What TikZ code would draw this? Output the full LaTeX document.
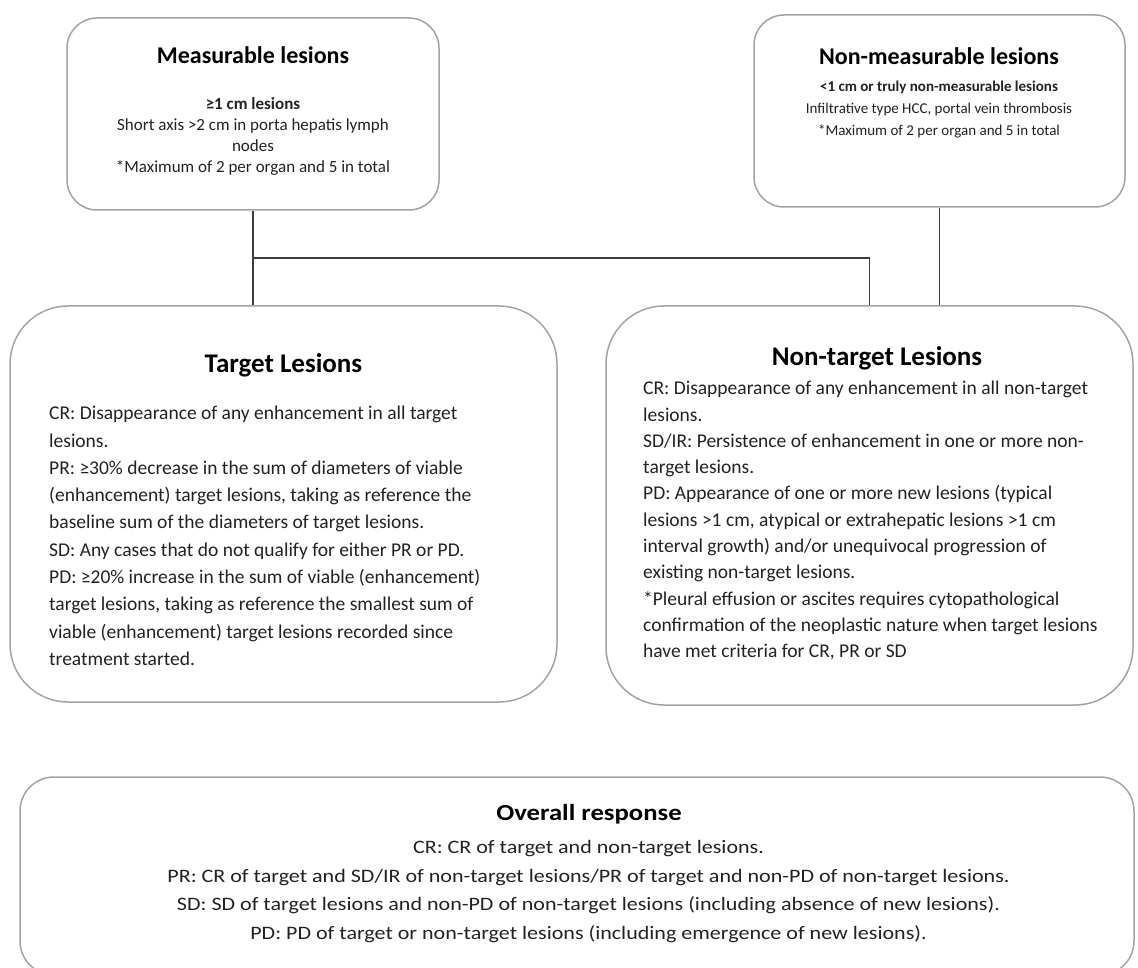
\documentclass[tikz,border=0pt]{standalone}
\usepackage{fontspec}
\setmainfont{Carlito}
\newfontfamily\widefont[FakeStretch=1.16]{Carlito}
\usetikzlibrary{calc}
\definecolor{boxgray}{HTML}{A3A3A3}
\definecolor{linegray}{HTML}{3C3C3C}
\definecolor{textgray}{HTML}{222222}
\tikzset{
  lesionbox/.style={draw=boxgray,line width=1.5pt,rounded corners=#1,inner sep=0pt},
  lesionbox/.default=30pt,
  boxtitle/.style={font=\bfseries\fontsize{#1}{#1}\selectfont,inner sep=0pt,text=black},
  boxtext/.style 2 args={font=\fontsize{#1}{#2}\selectfont,inner sep=0pt,text=textgray},
  conn/.style={draw=linegray,line width=1.2pt}
}
\begin{document}
\begin{tikzpicture}[x=1pt,y=-1pt]
\useasboundingbox (0,0) rectangle (1138,968);
% upper boxes
\node[lesionbox,minimum width=372pt,minimum height=192pt] (meas) at (253,114) {};
\node[lesionbox,minimum width=371pt,minimum height=192pt] (nonmeas) at (939.5,111) {};
\node[boxtitle=24,anchor=base] (meastitle) at (253,63.5) {Measurable lesions};
\node[boxtext={17}{21},align=center,anchor=north] (measbody) at (253,97)
  {\textbf{≥1 cm lesions}\\Short axis >2 cm in porta hepatis lymph\\nodes\\*Maximum of 2 per organ and 5 in total};
\node[boxtitle=24,anchor=base] (nonmeastitle) at (939,65) {Non-measurable lesions};
\node[boxtext={15}{22},align=center,anchor=north] (nonmeasbody) at (939,81)
  {\textbf{<1 cm or truly non-measurable lesions}\\Infiltrative type HCC, portal vein thrombosis\\*Maximum of 2 per organ and 5 in total};
% lesion boxes
\node[lesionbox=58pt,minimum width=547pt,minimum height=396pt] (target) at (283.5,504) {};
\node[lesionbox=58pt,minimum width=527pt,minimum height=399pt] (nontarget) at (869.5,505.5) {};
\node[boxtitle=27,anchor=base] (targettitle) at (283.5,372) {Target Lesions};
\node[boxtext={19.5}{27.3},align=left,anchor=north west] (targetbody) at (49,406)
  {CR: Disappearance of any enhancement in all target\\lesions.\\
   PR: ≥30\% decrease in the sum of diameters of viable\\
   (enhancement) target lesions, taking as reference the\\
   baseline sum of the diameters of target lesions.\\
   SD: Any cases that do not qualify for either PR or PD.\\
   PD: ≥20\% increase in the sum of viable (enhancement)\\
   target lesions, taking as reference the smallest sum of\\
   viable (enhancement) target lesions recorded since\\
   treatment started.};
\node[boxtitle=27,anchor=base] (nontargettitle) at (877,366) {Non-target Lesions};
\node[boxtext={19.5}{26.3},align=left,anchor=north west] (nontargetbody) at (643,381)
  {CR: Disappearance of any enhancement in all non-target\\lesions.\\
   SD/IR: Persistence of enhancement in one or more non-\\target lesions.\\
   PD: Appearance of one or more new lesions (typical\\
   lesions >1 cm, atypical or extrahepatic lesions >1 cm\\
   interval growth) and/or unequivocal progression of\\
   existing non-target lesions.\\
   *Pleural effusion or ascites requires cytopathological\\
   confirmation of the neoplastic nature when target lesions\\
   have met criteria for CR, PR or SD};
% overall
\node[lesionbox=34pt,minimum width=1114pt,minimum height=198pt] (overall) at (577,876) {};
\node[boxtitle=23,anchor=base,font=\widefont\bfseries\fontsize{23}{23}\selectfont] (overalltitle) at (589,820) {Overall response};
\node[boxtext={19}{28.7},align=center,anchor=north,font=\widefont\fontsize{19}{28.7}\selectfont] (overallbody) at (588.5,840)
  {CR: CR of target and non-target lesions.\\
   PR: CR of target and SD/IR of non-target lesions/PR of target and non-PD of non-target lesions.\\
   SD: SD of target lesions and non-PD of non-target lesions (including absence of new lesions).\\
   PD: PD of target or non-target lesions (including emergence of new lesions).};
% connectors
\coordinate (join) at ($(meas.south)!0.5!(meas.south |- target.north)$);
\draw[conn] (meas.south) -- (meas.south |- target.north);
\draw[conn] (join) -| (nontarget.north);
\draw[conn] (nonmeas.south) -- (nonmeas.south |- nontarget.north);
\end{tikzpicture}
\end{document}
